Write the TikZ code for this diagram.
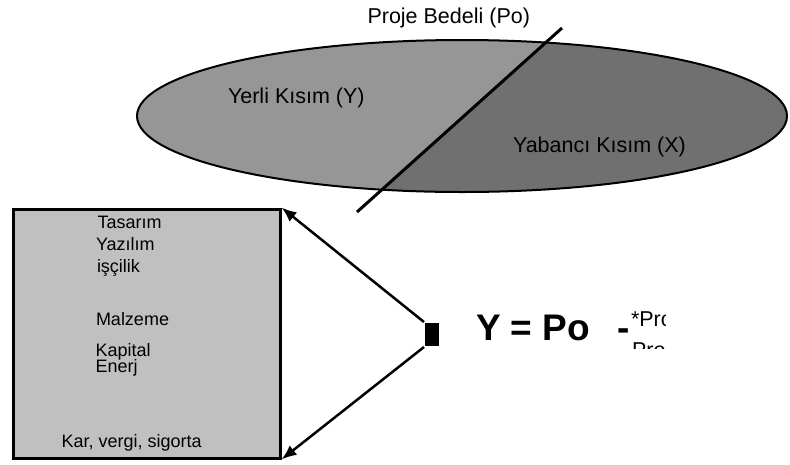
\documentclass[tikz,border=0pt]{standalone}
\usepackage{fontspec}
\setmainfont{Liberation Sans}
\usetikzlibrary{arrows.meta}
\definecolor{yerligray}{HTML}{969696}
\definecolor{yabancigray}{HTML}{707070}
\definecolor{boxgray}{HTML}{C0C0C0}

\begin{document}
\begin{tikzpicture}[x=1pt,y=-1pt,line width=2pt,
  lbl/.style={inner sep=0pt,anchor=base west,font=\fontsize{21.5}{26}\selectfont},
  item/.style={inner sep=0pt,anchor=base west,font=\fontsize{18}{22}\selectfont},
  tip/.style={line width=2.5pt,-{Latex[length=15pt,width=12pt]}}]
\useasboundingbox (0,0) rectangle (790,464);

% project ellipse, split by the cut line
\coordinate (cuttop) at (562,28);
\coordinate (cutbot) at (357,212);
\fill[yerligray] (462,116) ellipse [x radius=325,y radius=76];
\begin{scope}
  \clip (462,116) ellipse [x radius=325,y radius=76];
  \fill[yabancigray] (cuttop) -- (cutbot) -- (800,212) -- (800,28) -- cycle;
\end{scope}
\draw (462,116) ellipse [x radius=325,y radius=76];
\draw[line width=3pt] (cuttop) -- (cutbot);

\node[lbl] (po)  at (366.5,23) {Proje Bedeli (Po)};
\node[lbl] (yer) at (227,103)  {Yerli Kısım (Y)};
\node[lbl] (yab) at (512,152)  {Yabancı Kısım (X)};

% cost items
\node[draw,line width=3pt,fill=boxgray,minimum width=267,minimum height=249] (box) at (146.5,333.5) {};
\node[item] (tas) at (96.5,228) {Tasarım};
\node[item] (yaz) at (95,250)   {Yazılım};
\node[item] (isc) at (96,272)   {işçilik};
\node[item] (mal) at (95,325)   {Malzeme};
\node[item] (kap) at (94.7,356) {Kapital};
\node[item] (ene) at (94.7,372.5) {Enerj};
\node[item] (kar) at (60.7,447) {Kar, vergi, sigorta};

\node[fill=black,inner sep=0pt,minimum width=14,minimum height=23] (hub) at (432,334.5) {};
\draw[tip] (hub.north west) -- (box.north east);
\draw[tip] (hub.south west) -- (box.south east);

\node[inner sep=0pt,anchor=base west,font=\bfseries\fontsize{37}{44}\selectfont] (eq) at (475,340) {Y = Po};
\node[inner sep=0pt,anchor=base west,font=\bfseries\fontsize{37}{44}\selectfont] (minus) at (616,340) {-};
\begin{scope}
  \clip (628,300) rectangle (665,348);
  \node[lbl] (pr1) at (630,326) {*Pro};
  \node[lbl] (pr2) at (631,357) {Pro};
\end{scope}
\end{tikzpicture}
\end{document}
